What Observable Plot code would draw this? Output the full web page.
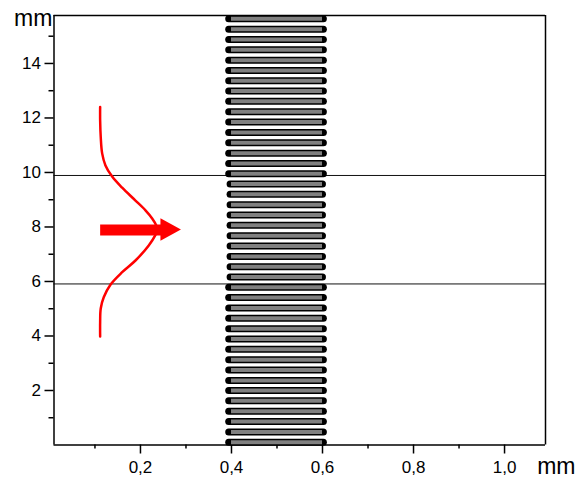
<!DOCTYPE html>
<html>
<head>
<meta charset="utf-8">
<script src="https://cdn.jsdelivr.net/npm/d3@7"></script>
<script src="https://cdn.jsdelivr.net/npm/@observablehq/plot@0.6"></script>
<style>
html,body{margin:0;padding:0;background:#fff}
svg{display:block}
</style>
</head>
<body>
<div id="chart"></div>
<script>
const xMajor = [0.2, 0.4, 0.6, 0.8, 1.0];
const xMinor = [0.1, 0.3, 0.5, 0.7, 0.9];
const yMajor = [2, 4, 6, 8, 10, 12, 14];
const yMinor = [1, 3, 5, 7, 9, 11, 13, 15];
const outerRows = [0.10,0.48,0.86,1.24,1.62,2.00,2.37,2.75,3.13,3.51,3.89,4.27,4.65,5.03,5.41,5.79,
  9.95,10.33,10.71,11.09,11.47,11.85,12.23,12.61,12.99,13.37,13.74,14.12,14.50,14.88,15.26,15.64];
const innerRows = [6.16,6.54,6.92,7.30,7.68,8.06,8.44,8.82,9.20,9.58];
const beamEdges = [5.91, 9.89];
const profileX = [0.1114,0.1114,0.1127,0.1158,0.1231,0.1378,0.1598,0.189,0.211,0.2257,0.2345,0.2374,0.233,0.2182,0.189,0.1598,0.134,0.1193,0.1127,0.1114,0.1114];
const profileY = [12.40,11.91,11.30,10.70,10.26,9.85,9.44,8.97,8.61,8.31,8.06,7.89,7.71,7.32,6.77,6.34,5.88,5.42,5.01,4.51,3.98];
const arrowShaftX = [0.1125, 0.25];
const arrowY = 7.89;
const arrowHead = [{x:0.245,y1:7.48,y2:8.30},{x:0.29,y1:7.89,y2:7.89}];

const profile = profileX.map((x,i)=>({x,y:profileY[i]}));
const comma = d => d.toFixed(1).replace(".", ",");
const font = "Liberation Sans, Arial, sans-serif";
const xL=0.01, xR=1.09, yB=0, yT=15.76;

const plot = Plot.plot({
  width:575, height:481,
  marginLeft:53.5, marginRight:30, marginTop:15, marginBottom:36.5,
  style:{fontFamily:font, background:"#fff", color:"#000"},
  x:{domain:[xL,xR], range:[53.5,545]},
  y:{domain:[yB,yT], range:[444.5,15]},
  marks:[
    Plot.ruleY(beamEdges,{x1:xL,x2:xR,stroke:"#111",strokeWidth:1}),
    Plot.ruleX([xL],{y1:yB,y2:yT,stroke:"#000",strokeWidth:1.5}),
    Plot.ruleX([xR],{y1:yB,y2:yT,stroke:"#000",strokeWidth:1.5}),
    Plot.ruleY([yB],{x1:xL,x2:xR,stroke:"#000",strokeWidth:1.5}),
    Plot.ruleY([yT],{x1:xL,x2:xR,stroke:"#000",strokeWidth:1.5}),
    Plot.axisY({ticks:yMajor,tickSize:9,tickPadding:4,fontSize:17,label:null,tickFormat:d=>String(d),strokeWidth:1.5}),
    Plot.axisY({ticks:yMinor,tickSize:5,tickFormat:()=>"",label:null,strokeWidth:1.5}),
    Plot.axisX({ticks:xMajor,tickSize:9,tickPadding:7,fontSize:17,label:null,tickFormat:comma,strokeWidth:1.5}),
    Plot.axisX({ticks:xMinor,tickSize:4,tickFormat:()=>"",label:null,strokeWidth:1.5}),
    Plot.ruleY(outerRows,{x1:0.395,x2:0.603,stroke:"#000",strokeWidth:7,strokeLinecap:"round"}),
    Plot.ruleY(innerRows,{x1:0.398,x2:0.601,stroke:"#000",strokeWidth:7,strokeLinecap:"round"}),
    Plot.ruleY(outerRows,{x1:0.4,x2:0.6,stroke:"#808080",strokeWidth:4}),
    Plot.ruleY(innerRows,{x1:0.4,x2:0.6,stroke:"#808080",strokeWidth:4}),
    Plot.line(profile,{x:"x",y:"y",stroke:"#f00",strokeWidth:2.5,curve:"catmull-rom"}),
    Plot.ruleY([arrowY],{x1:arrowShaftX[0],x2:arrowShaftX[1],stroke:"#f00",strokeWidth:11}),
    Plot.areaY(arrowHead,{x:"x",y1:"y1",y2:"y2",fill:"#f00",curve:"linear"}),
    Plot.text(["mm"],{frameAnchor:"top-left",textAnchor:"start",dx:-40,dy:-6,fontSize:23,lineAnchor:"top"}),
    Plot.text(["mm"],{frameAnchor:"bottom-right",textAnchor:"end",dx:30,dy:29,fontSize:23,lineAnchor:"bottom"})
  ]
});
document.getElementById("chart").appendChild(plot);
</script>
</body>
</html>
